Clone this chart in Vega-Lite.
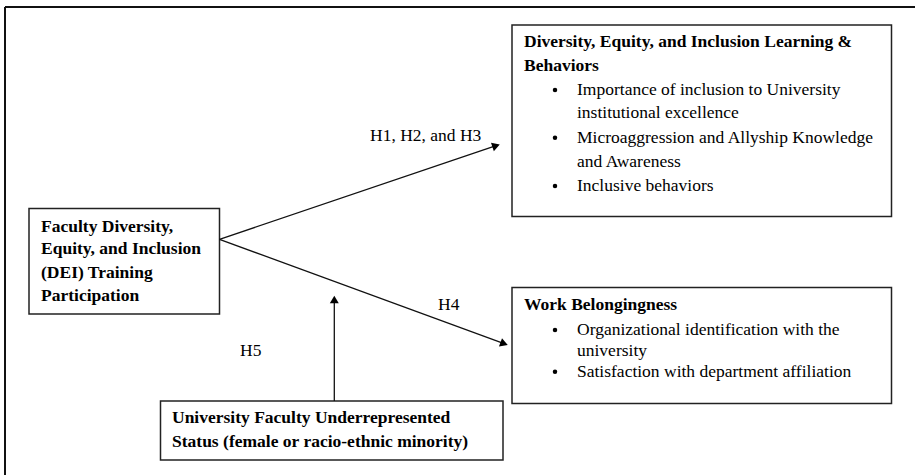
{
  "$schema": "https://vega.github.io/schema/vega-lite/v6.json",
  "width": 915,
  "height": 475,
  "padding": 0,
  "autosize": {"type": "none"},
  "background": "white",
  "config": {"view": {"stroke": null}},
  "datasets": {
    "frame": [
      {"x": 5, "y": 7, "x2": 915, "y2": 7},
      {"x": 5, "y": 7, "x2": 5, "y2": 475}
    ],
    "boxes": [
      {"name": "training", "x": 29, "x2": 219.5, "y": 208.5, "y2": 314},
      {"name": "learning", "x": 512, "x2": 891.5, "y": 25, "y2": 216.5},
      {"name": "belonging", "x": 512, "x2": 891.5, "y": 287.5, "y2": 403.5},
      {"name": "status", "x": 160.5, "x2": 503, "y": 401, "y2": 460}
    ],
    "arrows": [
      {"name": "H1-H3", "x": 219.5, "y": 239.3, "x2": 496.1, "y2": 145.7},
      {"name": "H4", "x": 219.5, "y": 239.3, "x2": 504.1, "y2": 343.7},
      {"name": "H5", "x": 334.3, "y": 401, "x2": 334.3, "y2": 299.5}
    ],
    "heads": [
      {"name": "H1-H3", "x": 496.1, "y": 145.7},
      {"name": "H4", "x": 504.1, "y": 343.7},
      {"name": "H5", "x": 334.3, "y": 299.5}
    ],
    "texts": [
      {"kind": "bold", "x": 41, "y": 226.7, "text": "Faculty Diversity,"},
      {"kind": "bold", "x": 41, "y": 249.3, "text": "Equity, and Inclusion"},
      {"kind": "bold", "x": 41, "y": 272.7, "text": "(DEI) Training"},
      {"kind": "bold", "x": 41, "y": 296, "text": "Participation"},
      {"kind": "bold", "x": 524, "y": 42.3, "text": "Diversity, Equity, and Inclusion Learning &"},
      {"kind": "bold", "x": 524, "y": 65.7, "text": "Behaviors"},
      {"kind": "normal", "x": 577, "y": 90, "text": "Importance of inclusion to University"},
      {"kind": "normal", "x": 577, "y": 113.3, "text": "institutional excellence"},
      {"kind": "normal", "x": 577, "y": 137.7, "text": "Microaggression and Allyship Knowledge"},
      {"kind": "normal", "x": 577, "y": 162.3, "text": "and Awareness"},
      {"kind": "normal", "x": 577, "y": 186, "text": "Inclusive behaviors"},
      {"kind": "bold", "x": 524, "y": 305, "text": "Work Belongingness"},
      {"kind": "normal", "x": 577, "y": 330, "text": "Organizational identification with the"},
      {"kind": "normal", "x": 577, "y": 350.5, "text": "university"},
      {"kind": "normal", "x": 577, "y": 371.7, "text": "Satisfaction with department affiliation"},
      {"kind": "bold", "x": 172, "y": 417.7, "text": "University Faculty Underrepresented"},
      {"kind": "bold", "x": 172, "y": 441.7, "text": "Status (female or racio-ethnic minority)"},
      {"kind": "normal", "x": 370, "y": 136, "text": "H1, H2, and H3"},
      {"kind": "normal", "x": 438, "y": 305, "text": "H4"},
      {"kind": "normal", "x": 240, "y": 351, "text": "H5"}
    ],
    "bullets": [
      {"x": 555, "y": 90},
      {"x": 555, "y": 137.7},
      {"x": 555, "y": 186},
      {"x": 555, "y": 330},
      {"x": 555, "y": 371.7}
    ]
  },
  "encoding": {
    "x": {"field": "x", "type": "quantitative", "scale": {"domain": [0, 915], "nice": false, "zero": false}, "axis": null},
    "y": {"field": "y", "type": "quantitative", "scale": {"domain": [0, 475], "nice": false, "zero": false, "reverse": true}, "axis": null}
  },
  "layer": [
    {
      "data": {"name": "frame"},
      "mark": {"type": "rule", "stroke": "#111111", "strokeWidth": 2},
      "encoding": {"x2": {"field": "x2"}, "y2": {"field": "y2"}}
    },
    {
      "data": {"name": "boxes"},
      "mark": {"type": "rect", "fill": "white", "stroke": "#222222", "strokeWidth": 1.5},
      "encoding": {"x2": {"field": "x2"}, "y2": {"field": "y2"}}
    },
    {
      "data": {"name": "arrows"},
      "mark": {"type": "rule", "stroke": "#111111", "strokeWidth": 1.3},
      "encoding": {"x2": {"field": "x2"}, "y2": {"field": "y2"}}
    },
    {
      "data": {"name": "heads"},
      "transform": [{"filter": "datum.name == 'H1-H3'"}],
      "mark": {"type": "point", "shape": "triangle-right", "angle": -18.6, "filled": true, "color": "#000000", "size": 80, "opacity": 1},
      "encoding": {}
    },
    {
      "data": {"name": "heads"},
      "transform": [{"filter": "datum.name == 'H4'"}],
      "mark": {"type": "point", "shape": "triangle-right", "angle": 20.2, "filled": true, "color": "#000000", "size": 80, "opacity": 1},
      "encoding": {}
    },
    {
      "data": {"name": "heads"},
      "transform": [{"filter": "datum.name == 'H5'"}],
      "mark": {"type": "point", "shape": "triangle-up", "filled": true, "color": "#000000", "size": 80, "opacity": 1},
      "encoding": {}
    },
    {
      "data": {"name": "bullets"},
      "mark": {"type": "point", "shape": "circle", "filled": true, "color": "#000000", "size": 20, "opacity": 1},
      "encoding": {}
    },
    {
      "data": {"name": "texts"},
      "transform": [{"filter": "datum.kind == 'bold'"}],
      "mark": {"type": "text", "align": "left", "baseline": "middle", "font": "Liberation Serif", "fontSize": 17.5, "fontWeight": "bold", "color": "#000000"},
      "encoding": {"text": {"field": "text"}}
    },
    {
      "data": {"name": "texts"},
      "transform": [{"filter": "datum.kind == 'normal'"}],
      "mark": {"type": "text", "align": "left", "baseline": "middle", "font": "Liberation Serif", "fontSize": 17.5, "color": "#000000"},
      "encoding": {"text": {"field": "text"}}
    }
  ]
}
